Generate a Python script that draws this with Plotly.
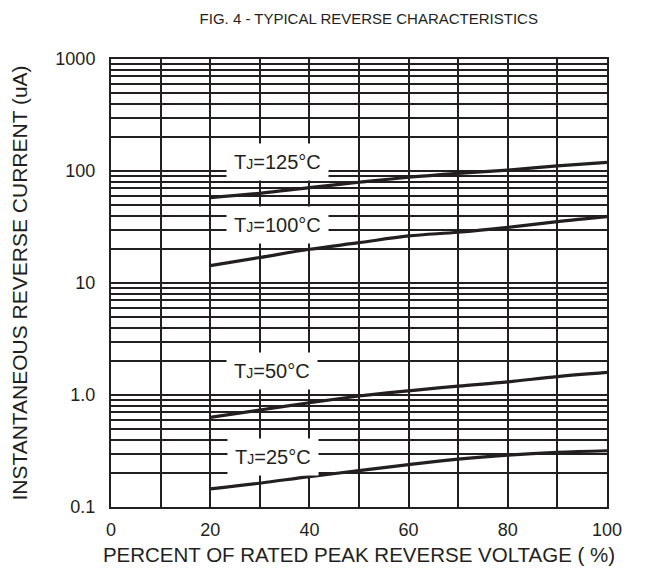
import math
import plotly.graph_objects as go

x_pct = [20, 30, 40, 50, 60, 70, 80, 90, 100]
i_125 = [57.8, 63.2, 71.0, 79.3, 87.9, 95.3, 102, 111, 119.6]
i_100 = [14.3, 16.9, 20.0, 22.9, 26.3, 28.4, 31.4, 35.3, 39.1]
i_50 = [0.632, 0.735, 0.853, 0.98, 1.09, 1.20, 1.31, 1.46, 1.59]
i_25 = [0.145, 0.163, 0.187, 0.211, 0.239, 0.268, 0.291, 0.308, 0.318]

series = [("125", i_125), ("100", i_100), ("50", i_50), ("25", i_25)]
labels = ["125", "100", "50", "25"]
label_x = [33.5, 33.5, 32.5, 32.7]
label_y = [120, 33, 1.64, 0.28]

y_tickvals = [0.1, 1, 10, 100, 1000]
y_ticktext = ["0.1", "1.0", "10", "100", "1000"]
x_tickvals = [0, 20, 40, 60, 80, 100]

ink = "#231f20"
font_family = "Liberation Sans, Arial, sans-serif"

fig = go.Figure()
for name, vals in series:
    fig.add_trace(go.Scatter(x=x_pct, y=vals, mode="lines",
                             line=dict(color=ink, width=3.2, shape="spline"),
                             name=name, showlegend=False))

for t, lx, ly in zip(labels, label_x, label_y):
    fig.add_annotation(x=lx, y=math.log10(ly), yref="y", xref="x",
                       text="T<span style='font-size:14px'>J</span>=" + t + "°C",
                       showarrow=False, bgcolor="white", borderpad=7,
                       font=dict(size=20, color=ink, family=font_family))

fig.update_layout(
    template="none",
    width=650, height=563,
    margin=dict(l=103, r=51, t=51, b=64),
    paper_bgcolor="white", plot_bgcolor="white",
    font=dict(family=font_family, color=ink, size=18),
    title=dict(text="FIG. 4 - TYPICAL REVERSE CHARACTERISTICS",
               x=0.555, xanchor="center", y=1 - 11 / 563, yanchor="middle",
               font=dict(size=15, color=ink, family=font_family)),
)

fig.update_xaxes(range=[0, 100], tickvals=x_tickvals, automargin=False,
                 showgrid=True, gridcolor=ink, gridwidth=2,
                 minor=dict(dtick=10, showgrid=True, gridcolor=ink, gridwidth=2),
                 showline=True, linecolor=ink, linewidth=2, mirror=True,
                 ticks="outside", ticklen=5, tickcolor="rgba(0,0,0,0)",
                 tickfont=dict(size=18),
                 zeroline=False,
                 title=dict(text="PERCENT OF RATED PEAK REVERSE VOLTAGE ( %)",
                            font=dict(size=20.5), standoff=9))

fig.update_yaxes(type="log", range=[-1, 3], tickvals=y_tickvals, ticktext=y_ticktext,
                 automargin=False,
                 showgrid=True, gridcolor=ink, gridwidth=2,
                 minor=dict(dtick="D1", showgrid=True, gridcolor=ink, gridwidth=2),
                 showline=True, linecolor=ink, linewidth=2, mirror=True,
                 ticks="outside", ticklen=10, tickcolor="rgba(0,0,0,0)",
                 tickfont=dict(size=18),
                 zeroline=False,
                 title=dict(text="INSTANTANEOUS REVERSE CURRENT (uA)",
                            font=dict(size=21), standoff=24))

fig.write_html("out.html")
